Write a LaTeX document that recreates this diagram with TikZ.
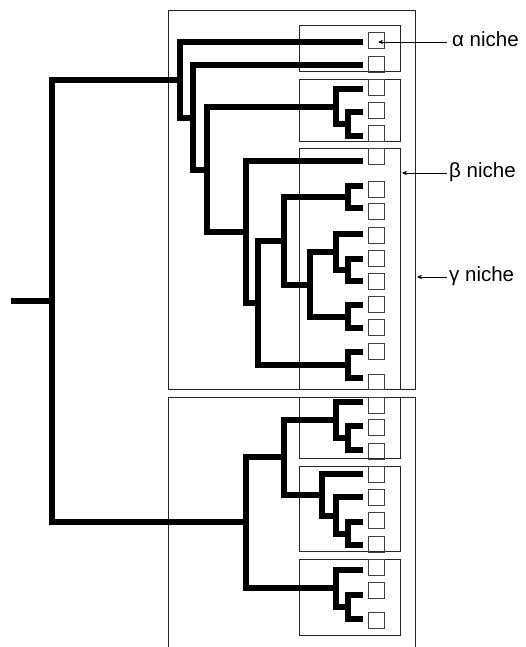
\documentclass[tikz,border=0pt]{standalone}
\usepackage{fontspec}
\setmainfont{Liberation Sans}
\usetikzlibrary{arrows.meta}
\begin{document}
\begin{tikzpicture}[x=1pt,y=-1pt,
  tree/.style={line width=5.5pt, line join=miter, line cap=rect},
  thinbox/.style={line width=1pt, draw=black!85},
  leafbox/.style={draw=black!75, line width=1pt},
  lbl/.style={anchor=base west, inner sep=0pt, font=\fontsize{20.5}{24}\selectfont},
  ptr/.style={line width=0.9pt, -{Stealth[length=5pt,width=4.5pt]}}
]
\useasboundingbox (0,0) rectangle (525,647);
% frames
\draw[thinbox] (168,11) rectangle (415,389);
\draw[thinbox] (168,647) -- (168,397) -- (415,397) -- (415,647);
\draw[thinbox] (299,26) rectangle (400,72);
\draw[thinbox] (299,80) rectangle (400,142);
\draw[thinbox] (299,149) rectangle (400,389);
\draw[thinbox] (299,397) rectangle (400,458);
\draw[thinbox] (299,466) rectangle (400,551);
\draw[thinbox] (299,559) rectangle (400,635);
% leaf squares
\foreach \y in {33,57,80,103,126,149,181,203,227,250,273,296,319,343}
  \draw[leafbox] (368,\y) rectangle ++(16,16);
\draw[leafbox] (368,374) rectangle (384,389);
\foreach \y in {397,419,443,466,489,512,536,559,582,612}
  \draw[leafbox] (368,\y) rectangle ++(16,16);
% leaves (top)
\coordinate (t1) at (360,42);
\coordinate (t2) at (360,65);
\coordinate (t3) at (360,89);
\coordinate (t4) at (360,112);
\coordinate (t5) at (360,136);
\coordinate (t6) at (360,161);
\coordinate (t7) at (360,186);
\coordinate (t8) at (360,208);
\coordinate (t9) at (360,234);
\coordinate (t10) at (360,259);
\coordinate (t11) at (360,281);
\coordinate (t12) at (360,305);
\coordinate (t13) at (360,328);
\coordinate (t14) at (360,352);
\coordinate (t15) at (360,378);
% leaves (bottom)
\coordinate (b1) at (360,402);
\coordinate (b2) at (360,426);
\coordinate (b3) at (360,450);
\coordinate (b4) at (360,474);
\coordinate (b5) at (360,497);
\coordinate (b6) at (360,522);
\coordinate (b7) at (360,545);
\coordinate (b8) at (360,570);
\coordinate (b9) at (360,595);
\coordinate (b10) at (360,619);
% internal nodes
\coordinate (stub) at (14,301);
\coordinate (R) at (52,301);
\coordinate (A) at (180,80);
\coordinate (B) at (193,118);
\coordinate (C) at (207,170);
\coordinate (D) at (336,107);
\coordinate (D2) at (348,124);
\coordinate (E) at (246,232);
\coordinate (G) at (258,303);
\coordinate (H) at (284,241);
\coordinate (I) at (348,197);
\coordinate (J) at (310,285);
\coordinate (K) at (336,252);
\coordinate (K2) at (348,270);
\coordinate (M) at (348,317);
\coordinate (N) at (348,365);
\coordinate (P) at (246,522);
\coordinate (Q) at (284,457);
\coordinate (R1) at (336,420);
\coordinate (R2) at (348,438);
\coordinate (S) at (322,495);
\coordinate (S2) at (336,516);
\coordinate (S3) at (348,534);
\coordinate (T) at (336,588);
\coordinate (T2) at (348,607);
% tree
\draw[tree] (stub) -- (R);
\draw[tree] (A) -| (R) |- (P);
\draw[tree] (t1) -| (A) |- (B);
\draw[tree] (t2) -| (B) |- (C);
\draw[tree] (D) -| (C) |- (E);
\draw[tree] (t3) -| (D) |- (D2);
\draw[tree] (t4) -| (D2) |- (t5);
\draw[tree] (t6) -| (E) |- (G);
\draw[tree] (H) -| (G) |- (N);
\draw[tree] (I) -| (H) |- (J);
\draw[tree] (t7) -| (I) |- (t8);
\draw[tree] (K) -| (J) |- (M);
\draw[tree] (t9) -| (K) |- (K2);
\draw[tree] (t10) -| (K2) |- (t11);
\draw[tree] (t12) -| (M) |- (t13);
\draw[tree] (t14) -| (N) |- (t15);
\draw[tree] (Q) -| (P) |- (T);
\draw[tree] (R1) -| (Q) |- (S);
\draw[tree] (b1) -| (R1) |- (R2);
\draw[tree] (b2) -| (R2) |- (b3);
\draw[tree] (b4) -| (S) |- (S2);
\draw[tree] (b5) -| (S2) |- (S3);
\draw[tree] (b6) -| (S3) |- (b7);
\draw[tree] (b8) -| (T) |- (T2);
\draw[tree] (b9) -| (T2) |- (b10);
% labels
\node[lbl] (la) at (452,46.5) {α niche};
\node[lbl] (lb) at (449,177.5) {β niche};
\node[lbl] (lg) at (449,281.5) {γ niche};
\coordinate (as) at (447,42);
\coordinate (at) at (378,42);
\coordinate (bs) at (447,173);
\coordinate (bt) at (402,173);
\coordinate (gs) at (447,277);
\coordinate (gt) at (417,277);
\draw[ptr] (as) -- (at);
\draw[ptr] (bs) -- (bt);
\draw[ptr] (gs) -- (gt);
\end{tikzpicture}
\end{document}
